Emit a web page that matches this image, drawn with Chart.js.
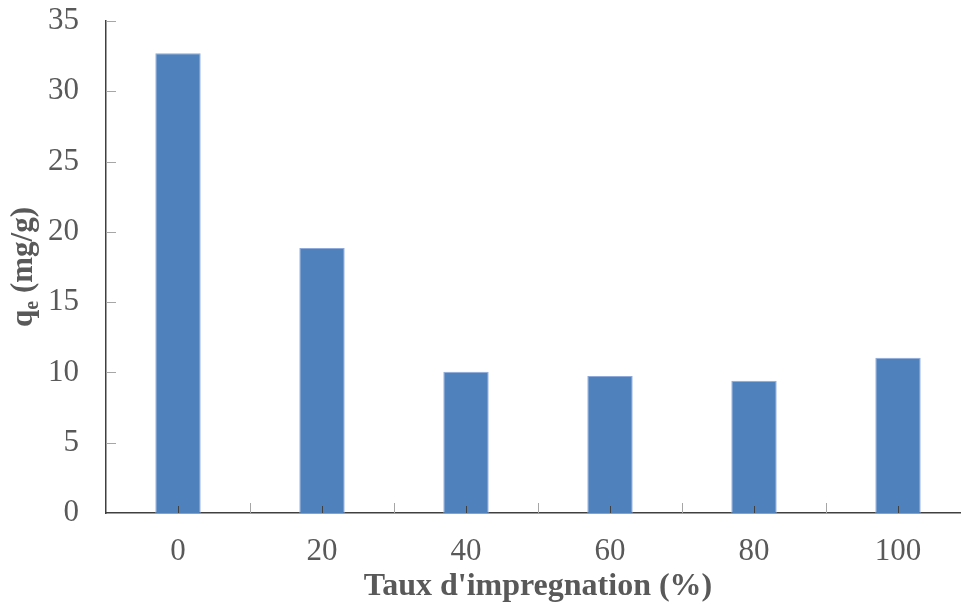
<!DOCTYPE html>
<html lang="fr">
<head>
    <meta charset="UTF-8">
    <title>qe vs taux d'impregnation</title>
    <script src="https://cdn.jsdelivr.net/npm/chart.js"></script>
    <style>
        html, body { margin: 0; padding: 0; background: #fff; overflow: hidden; }
        /* the original plot runs a few pixels past the right edge of the picture */
        #wrap { width: 970px; height: 608px; }
    </style>
</head>
<body>
    <div id="wrap"><canvas id="barChart"></canvas></div>

    <script>
        // data
        var categories = ["0", "20", "40", "60", "80", "100"];
        var qeValues = [32.7, 18.85, 10.05, 9.75, 9.4, 11.05];
        var yTicks = [0, 5, 10, 15, 20, 25, 30, 35];

        var serif = "'Liberation Serif', 'Times New Roman', serif";
        var textGrey = "#595959";

        // inner tick marks + y title with subscript
        var decorations = {
            id: 'decorations',
            afterDraw: function (chart) {
                var ctx = chart.ctx;
                var x = chart.scales.x, y = chart.scales.y;
                var area = chart.chartArea;
                ctx.save();
                ctx.lineWidth = 1;

                // y ticks, inside
                ctx.strokeStyle = "#a6a6a6";
                yTicks.forEach(function (v) {
                    var py = Math.round(y.getPixelForValue(v)) + 0.5;
                    if (v === 0) return;
                    ctx.beginPath();
                    ctx.moveTo(area.left, py);
                    ctx.lineTo(area.left + 10, py);
                    ctx.stroke();
                });

                // x ticks between categories
                var half = (x.getPixelForValue(1) - x.getPixelForValue(0)) / 2;
                for (var i = 1; i < categories.length; i++) {
                    var px = Math.round(x.getPixelForValue(i) - half) + 0.5;
                    ctx.beginPath();
                    ctx.moveTo(px, area.bottom);
                    ctx.lineTo(px, area.bottom - 10);
                    ctx.stroke();
                }
                // small ticks at category centres
                ctx.strokeStyle = "#404040";
                for (var j = 0; j < categories.length; j++) {
                    var cx = Math.round(x.getPixelForValue(j)) + 0.5;
                    ctx.beginPath();
                    ctx.moveTo(cx, area.bottom);
                    ctx.lineTo(cx, area.bottom - 7);
                    ctx.stroke();
                }

                // y axis title: q_e (mg/g)
                ctx.fillStyle = textGrey;
                ctx.textBaseline = "alphabetic";
                ctx.textAlign = "left";
                var big = "bold 31px " + serif, small = "bold 20px " + serif;
                ctx.font = big;
                var w1 = ctx.measureText("q").width;
                var w3 = ctx.measureText(" (mg/g)").width;
                ctx.font = small;
                var w2 = ctx.measureText("e").width;
                var total = w1 + w2 + w3;
                ctx.translate(32, (area.top + area.bottom) / 2);
                ctx.rotate(-Math.PI / 2);
                var sx = -total / 2;
                ctx.font = big;
                ctx.fillText("q", sx, 0);
                ctx.font = small;
                ctx.fillText("e", sx + w1, 6);
                ctx.font = big;
                ctx.fillText(" (mg/g)", sx + w1 + w2, 0);
                ctx.restore();
            }
        };

        var ctx = document.getElementById("barChart").getContext("2d");
        var myBarChart = new Chart(ctx, {
            type: 'bar',
            data: {
                labels: categories,
                datasets: [{
                    label: "qe",
                    data: qeValues,
                    backgroundColor: "#4f81bd",
                    borderColor: "#8eaadb",
                    borderWidth: 1,
                    barPercentage: 0.315,
                    categoryPercentage: 1.0
                }]
            },
            options: {
                responsive: true,
                maintainAspectRatio: false,
                animation: false,
                layout: { padding: { top: 21, right: 0, left: 0, bottom: 0 } },
                plugins: {
                    legend: { display: false },
                    tooltip: { enabled: false }
                },
                scales: {
                    x: {
                        offset: true,
                        grid: { display: false, drawTicks: false },
                        border: { display: true, color: "#404040", width: 1.5 },
                        ticks: {
                            color: textGrey,
                            padding: 20,
                            font: { family: serif, size: 31 }
                        },
                        title: {
                            display: true,
                            text: "Taux d'impregnation (%)",
                            color: textGrey,
                            padding: { top: 0, bottom: 2 },
                            font: { family: serif, size: 32, weight: 'bold' }
                        },
                        afterFit: function (s) {
                            s.height = 95;
                            s.paddingLeft = 0;
                            s.paddingRight = 0;
                        }
                    },
                    y: {
                        min: 0,
                        max: 35,
                        grid: { display: false, drawTicks: false },
                        border: { display: true, color: "#404040", width: 1.5 },
                        ticks: {
                            stepSize: 5,
                            color: textGrey,
                            padding: 27,
                            font: { family: serif, size: 31 }
                        },
                        afterFit: function (s) {
                            s.width = 106;
                            s.paddingTop = 0;
                            s.paddingBottom = 0;
                        }
                    }
                }
            },
            plugins: [decorations]
        });
    </script>
</body>
</html>
